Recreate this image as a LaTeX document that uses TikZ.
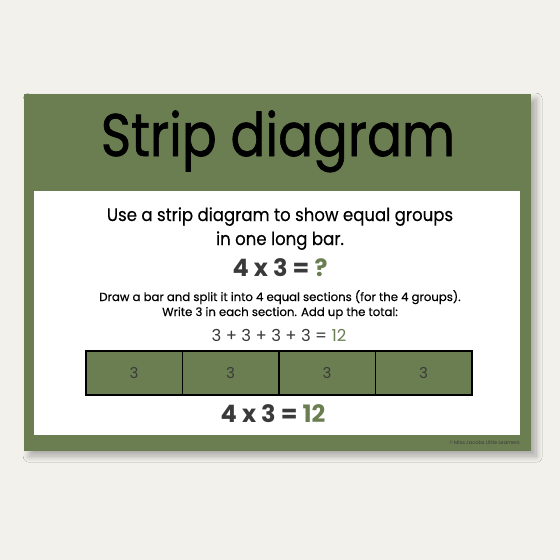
\documentclass[tikz,border=0pt]{standalone}
\usepackage{fontspec}
\setmainfont{Poppins}
\newfontfamily\heavyfont{Poppins}[FakeBold=1.2]
\newfontfamily\midfont{Poppins}[FakeBold=0.4]
\usetikzlibrary{shadows.blur}
\definecolor{bg}{HTML}{F3F1EC}
\definecolor{card}{HTML}{6B7E52}
\definecolor{ink}{HTML}{3A3A3A}
\tikzset{
  txt/.style={inner sep=0pt, anchor=base, text=black},
  cell/.style={draw=black, line width=1.6pt, fill=card, minimum width=96.5pt, minimum height=44pt, inner sep=0pt, anchor=north west, text=ink, font=\fontsize{15}{15}\selectfont},
}
\begin{document}
\begin{tikzpicture}[x=1pt,y=-1pt]
\fill[bg] (0,0) rectangle (560,560);
\useasboundingbox (0,0) rectangle (560,560);
\node[fill=card, minimum width=507pt, minimum height=357pt, inner sep=0pt, anchor=north west,
  blur shadow={shadow xshift=5pt, shadow yshift=-5pt, shadow blur steps=12, shadow blur radius=6pt, shadow opacity=30}] (card) at (24,94) {};
\node[fill=white, minimum width=486pt, minimum height=244pt, inner sep=0pt, anchor=north west] (panel) at (34,191) {};
\node[txt, font=\fontsize{60}{60}\heavyfont] (title) at (278,156) {\scalebox{0.86}[1]{Strip diagram}};
\node[txt, font=\fontsize{18}{18}\midfont] (l1) at (280,221) {\scalebox{0.92}[1]{Use a strip diagram to show equal groups}};
\node[txt, font=\fontsize{18}{18}\midfont] (l2) at (280,245) {\scalebox{0.92}[1]{in one long bar.}};
\node[txt, text=ink, font=\fontsize{24}{24}\selectfont\bfseries] (q) at (280,276) {4 x 3 = \textcolor{card}{?}};
\node[txt, font=\fontsize{11.7}{11.7}\midfont] (l3) at (280,301) {Draw a bar and split it into 4 equal sections (for the 4 groups).};
\node[txt, font=\fontsize{11.7}{11.7}\midfont] (l4) at (280,316) {Write 3 in each section. Add up the total:};
\node[txt, text=ink, font=\fontsize{16.5}{16.5}\selectfont] (sum) at (279,341) {3 + 3 + 3 + 3 = \textcolor{card}{12}};
\node[cell] (c1) at (85,350) {3};
\node[cell] (c2) at (181.5,350) {3};
\node[cell] (c3) at (278,350) {3};
\node[cell] (c4) at (374.5,350) {3};
\node[txt, text=ink, font=\fontsize{24}{24}\selectfont\bfseries] (ans) at (273,422) {4 x 3 = \textcolor{card}{12}};
\node[txt, text=ink, font=\fontsize{5}{5}\selectfont, anchor=base east] (copy) at (520,444) {© Miss Jacobs Little Learners};
\end{tikzpicture}
\end{document}
